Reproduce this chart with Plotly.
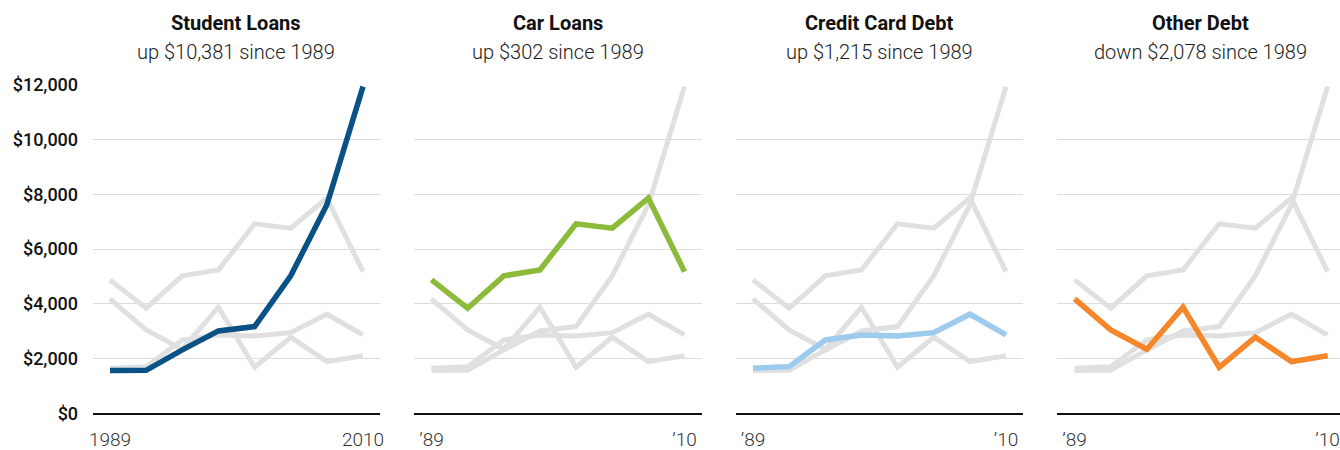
import plotly.graph_objects as go

years = [1989, 1992, 1995, 1998, 2001, 2004, 2007, 2010]
student_loans = [1560, 1570, 2316, 3011, 3170, 5024, 7622, 11941]
car_loans = [4877, 3842, 5024, 5243, 6927, 6769, 7867, 5179]
credit_card = [1650, 1705, 2682, 2865, 2828, 2949, 3622, 2865]
other_debt = [4180, 3048, 2342, 3878, 1683, 2781, 1888, 2102]

names = ["Student Loans", "Car Loans", "Credit Card Debt", "Other Debt"]
subtitles = ["up $10,381 since 1989", "up $302 since 1989",
             "up $1,215 since 1989", "down $2,078 since 1989"]
colors = ["#0a5286", "#8cbb3a", "#9ccbee", "#f5872a"]
series = [student_loans, car_loans, credit_card, other_debt]
y_ticks = [0, 2000, 4000, 6000, 8000, 10000, 12000]
y_ticktext = ["$0", "$2,000", "$4,000", "$6,000", "$8,000", "$10,000", "$12,000"]
x_ticktext = [["1989", "2010"], ["\u201989", "\u201910"], ["\u201989", "\u201910"], ["\u201989", "\u201910"]]

W, H = 1340, 450
GRAY = "#e0e0e0"
FONT = "Roboto"


def fnt(size, color, weight="normal"):
    return dict(size=size, color=color, family=FONT, weight=weight)


panel_left = [92.7, 414.2, 735.7, 1057.3]
panel_w = 287.3
px_per_year = (363 - 110) / 21.0
x_lo = 1989 - (110 - 92.7) / px_per_year

fig = go.Figure()
layout = dict(
    width=W, height=H, margin=dict(l=0, r=0, t=0, b=0, autoexpand=False),
    plot_bgcolor="white", paper_bgcolor="white", showlegend=False,
    font=fnt(16, "#222"),
)
annotations = []
for i in range(4):
    ax = "" if i == 0 else str(i + 1)
    left = panel_left[i]
    right = min(left + panel_w, W)
    x_hi = x_lo + (right - left) / px_per_year
    layout["xaxis" + ax] = dict(
        domain=[left / W, right / W], range=[x_lo, x_hi], anchor="y" + ax,
        tickvals=[1989, 2010], ticktext=x_ticktext[i], showgrid=False,
        zeroline=False, showline=True, linecolor="#111", linewidth=2,
        ticks="outside", ticklen=8, tickcolor="rgba(0,0,0,0)", automargin=False,
        ticklabeloverflow="allow", tickfont=fnt(19, "#333", 300),
    )
    layout["yaxis" + ax] = dict(
        domain=[(H - 413.3) / H, (H - 85) / H], range=[0, 12000], anchor="x" + ax,
        tickvals=y_ticks, ticktext=y_ticktext, showticklabels=(i == 0),
        showgrid=True, gridcolor="#dcdcdc", gridwidth=1, zeroline=False,
        ticks="outside" if i == 0 else "", ticklen=10, tickcolor="rgba(0,0,0,0)",
        automargin=False, tickfont=fnt(18, "#111", 500),
    )
    for s in series:
        fig.add_trace(go.Scatter(x=years, y=s, mode="lines", xaxis="x" + ax, yaxis="y" + ax,
                                 line=dict(color=GRAY, width=5), hoverinfo="skip"))
    fig.add_trace(go.Scatter(x=years, y=series[i], mode="lines", xaxis="x" + ax, yaxis="y" + ax,
                             line=dict(color=colors[i], width=5.5)))
    cx = (left + left + panel_w) / 2 / W
    annotations.append(dict(x=cx, y=(H - 23) / H, xref="paper", yref="paper",
                            text=names[i], showarrow=False, xanchor="center",
                            font=fnt(20, "#111", 700), yanchor="middle"))
    annotations.append(dict(x=cx, y=(H - 52) / H, xref="paper", yref="paper",
                            text=subtitles[i], showarrow=False, xanchor="center",
                            font=fnt(20, "#222", 300), yanchor="middle"))
layout["annotations"] = annotations
fig.update_layout(**layout)
fig.write_html("out.html", config={"displayModeBar": False},
               post_script="document.body.style.margin='0px';document.body.style.overflow='hidden';")
